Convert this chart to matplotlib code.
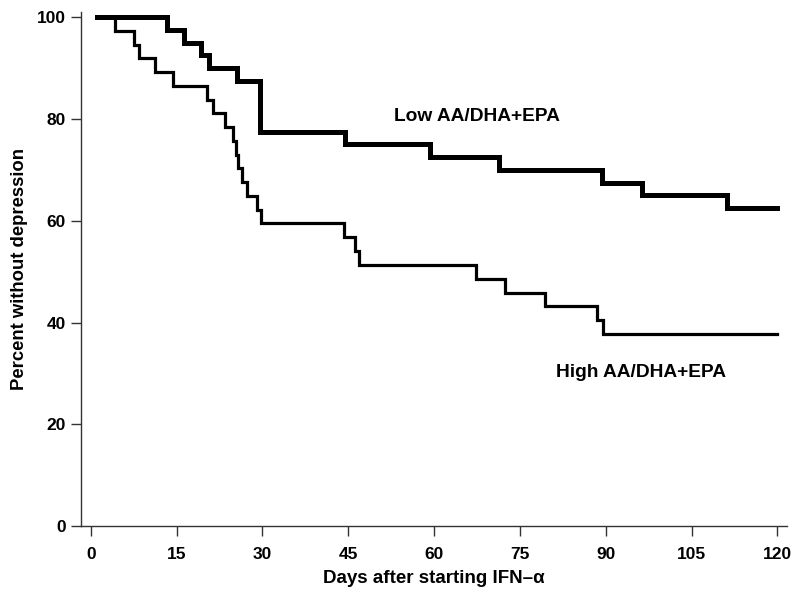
import matplotlib
matplotlib.use("Agg")
import matplotlib.pyplot as plt

plt.rcParams['font.family'] = ['Liberation Sans', 'DejaVu Sans']

# Kaplan-Meier style step data (days, percent without depression)
low_days = [1, 13.4, 16.3, 19.3, 20.7, 25.5, 29.5, 44.4, 59.3, 71.4, 89.3, 96.3, 111.2, 120]
low_pct = [100, 97.5, 95, 92.5, 90, 87.5, 77.5, 75, 72.5, 70, 67.5, 65, 62.5, 62.5]

high_days = [1, 4.3, 7.5, 8.4, 11.3, 14.4, 20.3, 21.4, 23.4, 24.8, 25.3, 25.8, 26.5, 27.3,
             29.1, 29.8, 44.2, 46.1, 46.8, 67.3, 72.4, 79.4, 88.5, 89.5, 120]
high_pct = [100, 97.3, 94.6, 91.9, 89.2, 86.5, 83.8, 81.1, 78.4, 75.7, 73.0, 70.3, 67.6, 64.9,
            62.2, 59.5, 56.8, 54.1, 51.4, 48.6, 45.9, 43.2, 40.5, 37.8, 37.8]

x_ticks = [0, 15, 30, 45, 60, 75, 90, 105, 120]
y_ticks = [0, 20, 40, 60, 80, 100]

fig = plt.figure(figsize=(8, 6), dpi=100)
ax = fig.add_axes([0.101, 0.123, 0.883, 0.857])

ax.plot(low_days, low_pct, drawstyle='steps-post', color='black', lw=3.6,
        solid_joinstyle='miter', clip_on=False)
ax.plot(high_days, high_pct, drawstyle='steps-post', color='black', lw=2.3,
        solid_joinstyle='miter', clip_on=False)

ax.text(67.5, 80.5, 'Low AA/DHA+EPA', ha='center', va='center',
        fontsize=13.8, fontweight='bold')
ax.text(96.2, 30.1, 'High AA/DHA+EPA', ha='center', va='center',
        fontsize=13.8, fontweight='bold')

ax.set_xlim(-1.75, 121.7)
ax.set_ylim(0, 101)
ax.set_xticks(x_ticks)
ax.set_yticks(y_ticks)
ax.tick_params(axis='both', direction='out', length=7, width=1, color='#333333',
               labelsize=12.5, pad=4)
for lab in ax.get_xticklabels() + ax.get_yticklabels():
    lab.set_fontweight('bold')
ax.tick_params(axis='x', pad=8)

for s in ['top', 'right']:
    ax.spines[s].set_visible(False)
for s in ['left', 'bottom']:
    ax.spines[s].set_color('#333333')
    ax.spines[s].set_linewidth(1)

ax.set_xlabel('Days after starting IFN\u2013\u03b1', fontsize=13.5, fontweight='bold', labelpad=6)
ax.set_ylabel('Percent without depression', fontsize=13.3, fontweight='bold', labelpad=6)

fig.savefig('out.png', dpi=100)
